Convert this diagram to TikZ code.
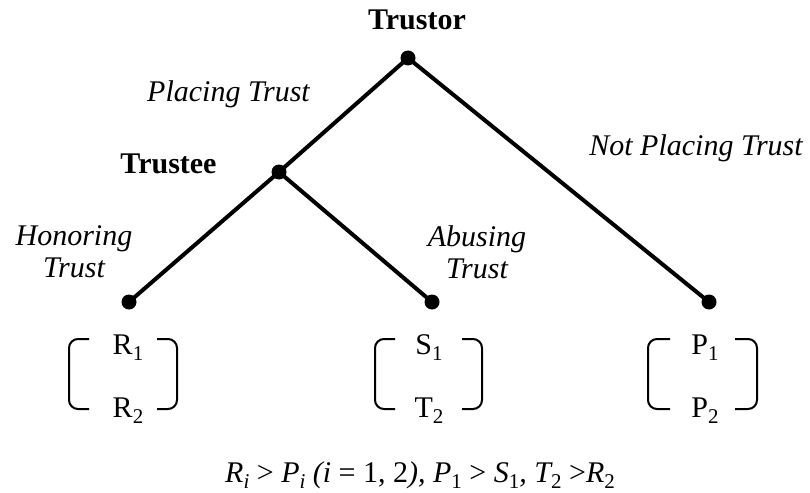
\documentclass[tikz,border=0pt]{standalone}
\usepackage{fontspec}
\setmainfont{Liberation Serif}
\newcommand\lowsub[1]{\raisebox{-6pt}{\fontsize{21}{21}\selectfont #1}}
\begin{document}
\begin{tikzpicture}[x=1pt,y=-1pt,
  every node/.style={inner sep=0pt, outer sep=0pt},
  txt/.style={font=\fontsize{30}{32}\selectfont, anchor=base},
  bold/.style={txt, font=\fontsize{30}{32}\selectfont\bfseries},
  lab/.style={txt, font=\fontsize{30}{32}\selectfont\itshape, align=center},
  dot/.style={circle, fill=black, minimum size=15pt},
  edge/.style={line width=4pt, black},
  brk/.style={line width=2pt, rounded corners=9pt}]
\useasboundingbox (0,0) rectangle (810,492);
% decision nodes
\node[dot] (root) at (408,58) {};
\node[dot] (trustee) at (279,172) {};
\node[dot] (leafR) at (129,302) {};
\node[dot] (leafS) at (432,302) {};
\node[dot] (leafP) at (709,302) {};
% edges
\draw[edge] (root.center) -- (trustee.center);
\draw[edge] (root.center) -- (leafP.center);
\draw[edge] (trustee.center) -- (leafR.center);
\draw[edge] (trustee.center) -- (leafS.center);
% labels
\node[bold] (trustorlbl) at (417,30) {Trustor};
\node[bold] (trusteelbl) at (168.5,173) {Trustee};
\node[lab] (placing) at (228.5,102) {Placing Trust};
\node[lab] (notplacing) at (696,155) {Not Placing Trust};
\node[lab] (honor) at (74,277) {Honoring\\Trust};
\node[lab] (abuse) at (477,278) {Abusing\\Trust};
% payoffs
\node[txt] (r1) at (128,354) {R\lowsub{1}};
\node[txt] (r2) at (128,417) {R\lowsub{2}};
\node[txt] (s1) at (429,354) {S\lowsub{1}};
\node[txt] (t2) at (429,417) {T\lowsub{2}};
\node[txt] (p1) at (705,354) {P\lowsub{1}};
\node[txt] (p2) at (705,417) {P\lowsub{2}};
% brackets
\draw[brk] (89,339) -- (69,339) -- (69,409) -- (89,409);
\draw[brk] (157,339) -- (177,339) -- (177,409) -- (157,409);
\draw[brk] (395,339) -- (375,339) -- (375,409) -- (395,409);
\draw[brk] (462,339) -- (482,339) -- (482,409) -- (462,409);
\draw[brk] (670,339) -- (648,339) -- (648,409) -- (670,409);
\draw[brk] (735,339) -- (757,339) -- (757,409) -- (735,409);
% condition
\node[txt] (cond) at (420,482) {\itshape R\lowsub{i} {\upshape >} P\lowsub{i} (i {\upshape = 1, 2}), P\lowsub{\upshape 1} {\upshape >} S\lowsub{\upshape 1}, T\lowsub{\upshape 2} {\upshape >}R\lowsub{\upshape 2}};
\end{tikzpicture}
\end{document}
